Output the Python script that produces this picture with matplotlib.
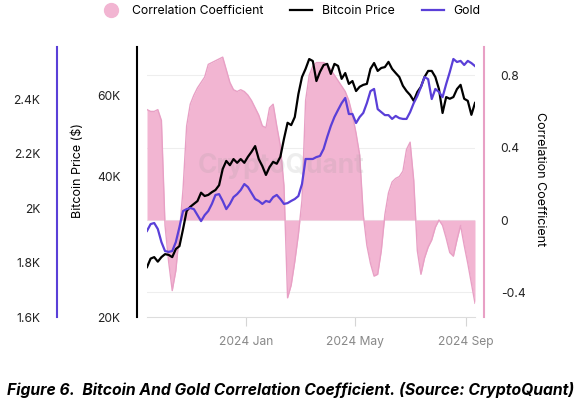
import matplotlib
matplotlib.use('Agg')
from matplotlib import pyplot as plt
from matplotlib.lines import Line2D
from matplotlib.ticker import NullLocator
import pandas as pd

plt.rcParams['font.family'] = ['Inter', 'DejaVu Sans']

# data, one point every 4 days
dates = pd.date_range('2023-09-13', periods=92, freq='4D')

corr = [0.61, 0.60, 0.60, 0.61, 0.55, -0.03, -0.23, -0.39, -0.28, -0.07,
        0.17, 0.52, 0.64, 0.69, 0.73, 0.76, 0.79, 0.86, 0.87, 0.88,
        0.89, 0.90, 0.83, 0.76, 0.72, 0.71, 0.72, 0.71, 0.69, 0.66,
        0.62, 0.58, 0.52, 0.51, 0.62, 0.64, 0.52, 0.41, 0.19, -0.43,
        -0.36, -0.23, -0.08, 0.11, 0.66, 0.80, 0.85, 0.87, 0.87, 0.87,
        0.86, 0.83, 0.80, 0.77, 0.74, 0.71, 0.66, 0.58, 0.48, 0.36,
        0.03, -0.14, -0.24, -0.31, -0.30, -0.17, 0.03, 0.15, 0.21, 0.23,
        0.24, 0.27, 0.39, 0.43, 0.22, -0.17, -0.30, -0.21, -0.15, -0.11,
        -0.04, 0.00, -0.03, -0.10, -0.18, -0.20, -0.11, -0.03, -0.14, -0.24,
        -0.35, -0.46]

btc_k = [25.6, 26.7, 26.9, 26.3, 26.9, 27.3, 27.2, 26.9, 28.0, 28.4,
         30.9, 33.8, 34.5, 35.0, 35.5, 37.0, 36.4, 36.6, 37.1, 37.5,
         38.4, 41.6, 43.3, 42.4, 43.7, 42.9, 43.7, 42.9, 44.2, 45.3,
         46.6, 43.7, 42.2, 40.4, 42.0, 43.1, 42.7, 44.2, 48.3, 52.3,
         51.7, 53.8, 60.3, 65.6, 68.3, 71.7, 71.0, 64.3, 67.3, 69.6,
         70.0, 66.6, 70.0, 69.3, 65.0, 66.9, 63.4, 64.3, 61.2, 62.5,
         63.1, 63.4, 68.3, 70.3, 67.6, 68.6, 68.9, 70.7, 68.3, 66.9,
         65.6, 62.8, 61.2, 60.0, 58.3, 60.9, 62.5, 65.6, 67.6, 67.6,
         65.6, 61.8, 54.9, 59.4, 58.9, 59.4, 61.8, 63.1, 58.9, 58.3,
         54.4, 57.7]

gold = [1916, 1941, 1945, 1923, 1875, 1842, 1839, 1842, 1875, 1930,
        1989, 1996, 2000, 1996, 1974, 1952, 1974, 1989, 2015, 2048,
        2051, 2026, 1996, 2015, 2040, 2051, 2066, 2088, 2077, 2055,
        2033, 2026, 2015, 2026, 2022, 2040, 2048, 2033, 2015, 2018,
        2026, 2033, 2044, 2088, 2180, 2180, 2180, 2187, 2191, 2217,
        2261, 2301, 2334, 2360, 2385, 2404, 2345, 2345, 2312, 2334,
        2349, 2385, 2429, 2437, 2363, 2352, 2341, 2341, 2327, 2338,
        2330, 2327, 2327, 2352, 2385, 2411, 2444, 2481, 2473, 2400,
        2437, 2426, 2407, 2455, 2499, 2547, 2536, 2540, 2525, 2540,
        2532, 2521]

x_ticks = ['2024-01-01', '2024-05-01', '2024-09-01']
x_labels = ['2024 Jan', '2024 May', '2024 Sep']
corr_ticks = [-0.4, 0, 0.4, 0.8]
corr_labels = ['-0.4', '0', '0.4', '0.8']
btc_ticks = [20, 40, 60]
btc_labels = ['20K', '40K', '60K']
gold_ticks = [1600, 1800, 2000, 2200, 2400]
gold_labels = ['1.6K', '1.8K', '2K', '2.2K', '2.4K']

PINK = '#f2b5d2'
PINK_EDGE = '#e8a0c5'
PURPLE = '#5a3fd8'

fig = plt.figure(figsize=(5.81, 4.03), dpi=100)
ax = fig.add_axes([147 / 581, 86 / 403, 328 / 581, 270 / 403])
ax_btc = ax.twinx()
ax_gold = ax.twinx()

# correlation (base axes, right side)
ax.fill_between(dates, corr, 0, color=PINK, lw=0, zorder=1)
ax.plot(dates, corr, color=PINK_EDGE, lw=1, zorder=2)
ax.set_ylim(-0.536, 0.956)
ax.set_xlim(dates[0], dates[-1])
ax.set_yticks(corr_ticks)
ax.set_yticklabels(corr_labels)
ax.yaxis.tick_right()
ax.yaxis.set_label_position('right')
ax.grid(axis='y', color='#eeeeee', lw=0.8)
ax.set_axisbelow(True)
ax.tick_params(axis='y', length=0, pad=12, labelsize=8.7, labelcolor='#222222')
ax.set_xticks(pd.to_datetime(x_ticks))
ax.set_xticklabels(x_labels)
ax.tick_params(axis='x', length=6.5, color='#d5d5d5', pad=7, labelsize=8.7, labelcolor='#888888')
ax.spines['left'].set_visible(False)
ax.spines['top'].set_visible(False)
ax.spines['bottom'].set_color('#dddddd')
ax.spines['right'].set_position(('outward', 6.5))
ax.spines['right'].set_color(PINK_EDGE)
ax.spines['right'].set_linewidth(1.5)
ax.set_ylabel('Correlation Coefficient', fontsize=9, rotation=270)
ax.yaxis.label.set(va='center', ha='center')
ax.yaxis.set_label_coords(1.198, 0.511)

ax.text(0.41, 0.56, 'CryptoQuant', transform=ax.transAxes, fontsize=19,
        fontweight='bold', color='#999999', alpha=0.17, ha='center', va='center', zorder=3)

# bitcoin (log scale, inner left)
ax_btc.plot(dates, btc_k, color='black', lw=1.6)
ax_btc.set_yscale('log')
ax_btc.set_ylim(20, 76.1)
ax_btc.set_yticks(btc_ticks)
ax_btc.set_yticklabels(btc_labels)
ax_btc.yaxis.set_minor_locator(NullLocator())
ax_btc.yaxis.tick_left()
ax_btc.yaxis.set_label_position('left')
ax_btc.tick_params(axis='y', length=0, pad=12, labelsize=8.7, labelcolor='#222222')
for s in ['right', 'top', 'bottom']:
    ax_btc.spines[s].set_visible(False)
ax_btc.spines['left'].set_position(('outward', 7.2))
ax_btc.spines['left'].set_color('black')
ax_btc.spines['left'].set_linewidth(1.5)
ax_btc.set_ylabel('Bitcoin Price ($)', fontsize=9)
ax_btc.yaxis.label.set(va='center', ha='center')
ax_btc.yaxis.set_label_coords(-0.21, 0.544)

# gold (outer left)
ax_gold.plot(dates, gold, color=PURPLE, lw=1.6)
ax_gold.set_ylim(1600, 2591)
ax_gold.set_yticks(gold_ticks)
ax_gold.set_yticklabels(gold_labels)
ax_gold.yaxis.tick_left()
ax_gold.tick_params(axis='y', length=0, pad=12, labelsize=8.7, labelcolor='#222222')
for s in ['right', 'top', 'bottom']:
    ax_gold.spines[s].set_visible(False)
ax_gold.spines['left'].set_position(('outward', 64.8))
ax_gold.spines['left'].set_color(PURPLE)
ax_gold.spines['left'].set_linewidth(1.5)

handles = [Line2D([], [], marker='o', ls='none', markersize=10, color=PINK),
           Line2D([], [], color='black', lw=1.6),
           Line2D([], [], color=PURPLE, lw=1.6)]
fig.legend(handles, ['Correlation Coefficient', 'Bitcoin Price', 'Gold'],
           loc='upper center', bbox_to_anchor=(0.5, 1.015), ncol=3, frameon=False,
           fontsize=8.8, handlelength=1.8, columnspacing=2.2, handletextpad=0.8)

fig.text(0.5, 0.032, 'Figure 6.  Bitcoin And Gold Correlation Coefficient. (Source: CryptoQuant)',
         ha='center', va='center', fontsize=11.3, fontweight='bold', style='italic')

fig.savefig('out.png', dpi=100)
